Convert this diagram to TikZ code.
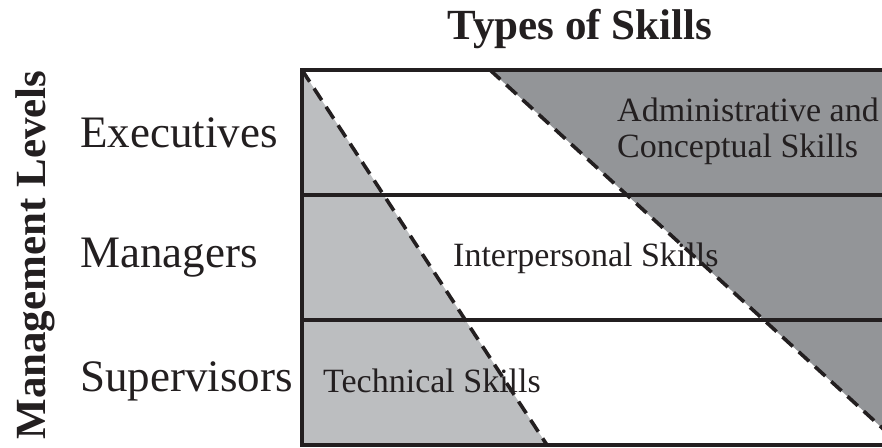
\documentclass[tikz,border=0pt]{standalone}
\usepackage{fontspec}
\setmainfont{Liberation Serif}
\usetikzlibrary{positioning}
\definecolor{CInk}{HTML}{231F20}
\definecolor{CLight}{HTML}{BCBEC0}
\definecolor{CShade}{HTML}{939598}
\tikzset{
    gridline/.style={
        draw=CInk,
        line width=3.8pt
    },
    skillcut/.style={
        draw=CInk,
        line width=3.6pt,
        dash pattern=on 14pt off 8pt
    },
    heading/.style={
        inner sep=0pt,
        text=CInk,
        font=\bfseries\fontsize{43}{48}\selectfont
    },
    levellabel/.style={
        anchor=base west,
        inner sep=0pt,
        text=CInk,
        font=\fontsize{45}{50}\selectfont
    },
    skilllabel/.style={
        anchor=base west,
        inner sep=0pt,
        text=CInk,
        align=left,
        font=\fontsize{34}{36}\selectfont
    }
}

\begin{document}
\begin{tikzpicture}[x=1pt, y=1pt]
    \useasboundingbox (0,0) rectangle (882,447);
    \clip (0,0) rectangle (882,447);

    % Corners of the grid
    \coordinate (tl) at (302,377);
    \coordinate (bl) at (302,2);
    \coordinate (tr) at (886,377);
    \coordinate (br) at (886,2);
    \coordinate (ml) at (302,252);
    \coordinate (mr) at (886,252);
    \coordinate (ll) at (302,127);
    \coordinate (lr) at (886,127);

    % Ends of the two skill boundaries
    \coordinate (techend) at (547,2);
    \coordinate (admstart) at (490,377);
    \coordinate (admend) at (886,15.5);

    % Shaded areas
    \fill[CLight] (tl) -- (techend) -- (bl) -- cycle;
    \fill[CShade] (admstart) -- (admend) -- (tr) -- cycle;

    % Boundaries
    \draw[skillcut] (tl) -- (techend);
    \draw[skillcut] (admstart) -- (admend);

    % Grid
    \draw[gridline] (tr) -- (tl) -- (bl) -- (br);
    \draw[gridline] (ml) -- (mr);
    \draw[gridline] (ll) -- (lr);

    % Labels
    \node[heading, anchor=base] (title) at (580,407) {Types of Skills};
    \node[heading, anchor=base, rotate=90] (levels) at (45,192) {Management Levels};

    \node[levellabel] (exec) at (80,299) {Executives};
    \node[levellabel] (mgr) at (80,179) {Managers};
    \node[levellabel] (sup) at (80,56) {Supervisors};

    % base of a two-line node sits on its last line
    \node[skilllabel] (adm) at (617,289) {Administrative and\\Conceptual Skills};
    \node[skilllabel] (inter) at (453,180) {Interpersonal Skills};
    \node[skilllabel] (tech) at (323,55) {Technical Skills};

\end{tikzpicture}
\end{document}
